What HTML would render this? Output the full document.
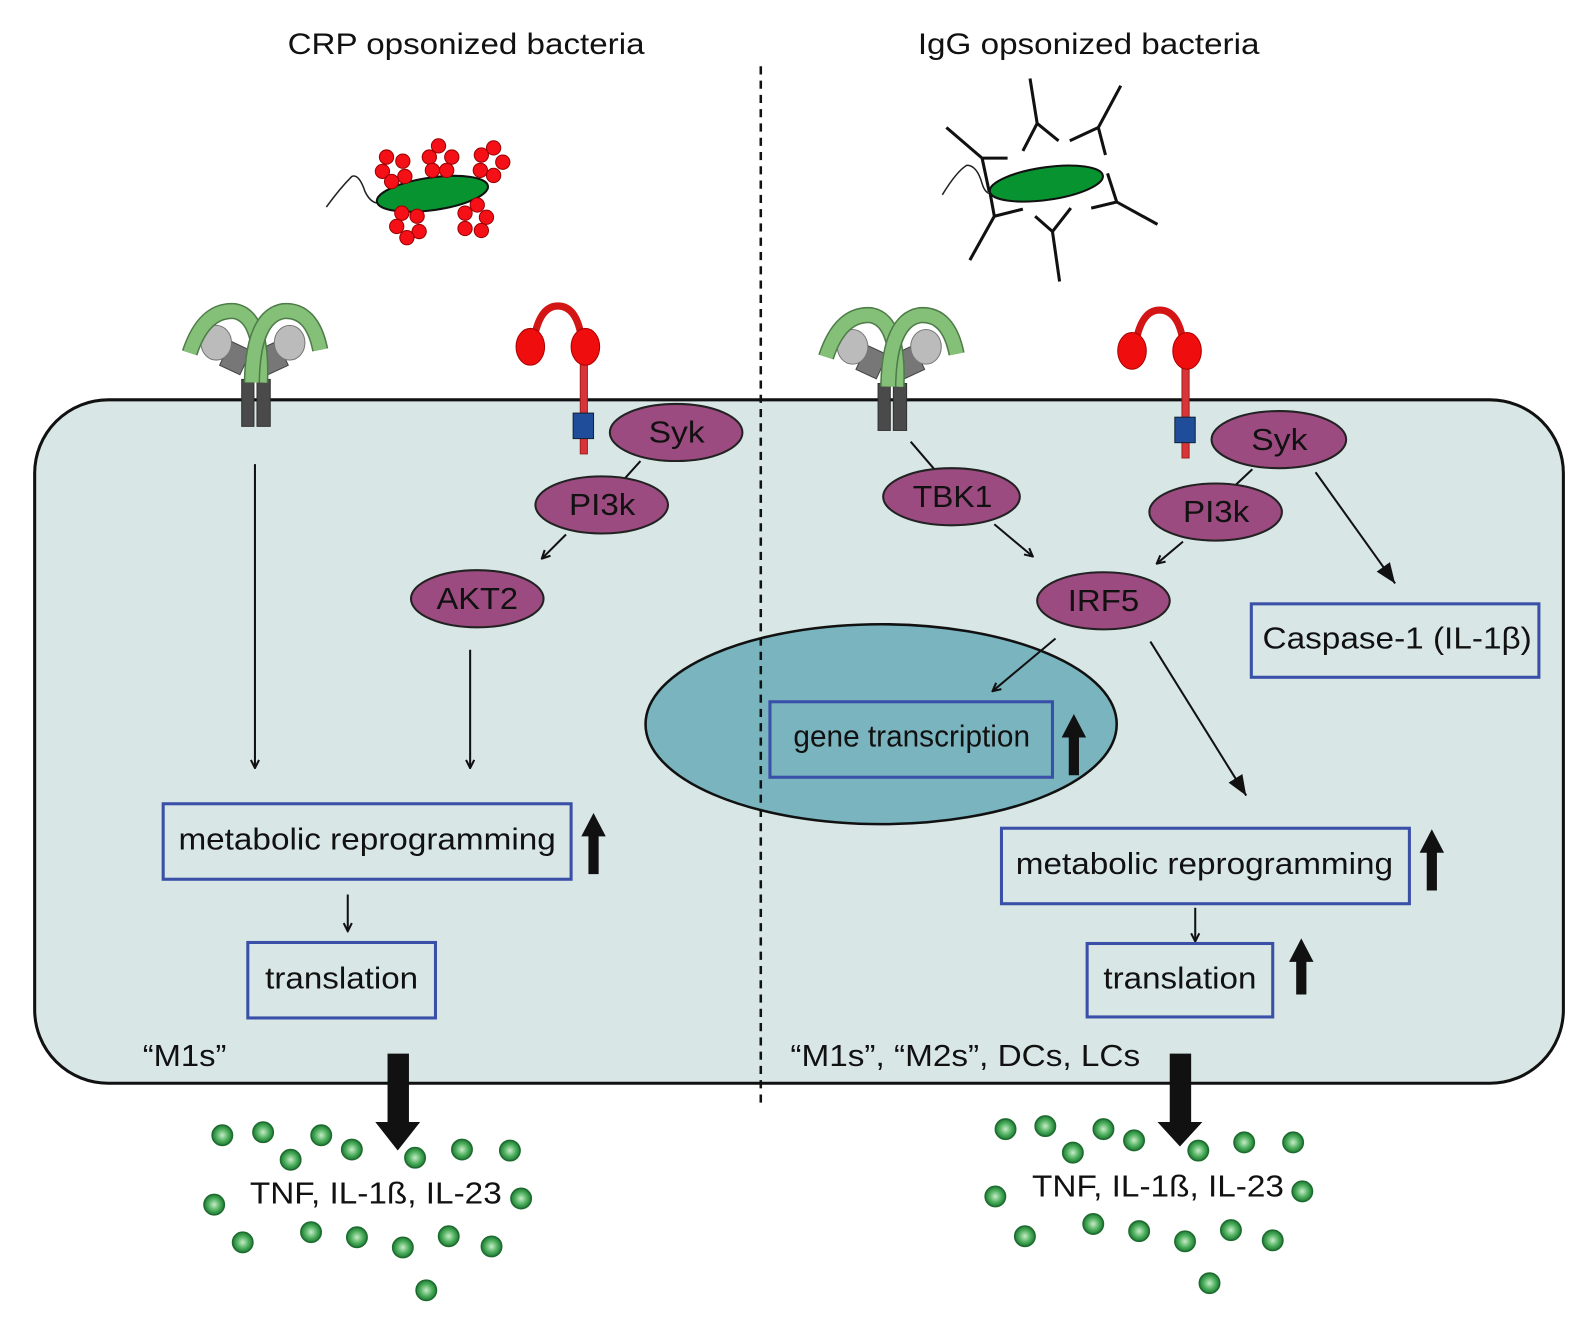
<!DOCTYPE html>
<html><head><meta charset="utf-8"><style>
html,body{margin:0;padding:0;background:#fff;}
svg{display:block;}
text{font-family:"Liberation Sans",Arial,sans-serif;fill:#111;}
</style></head><body>
<svg width="1595" height="1326" viewBox="0 0 1564 1300" preserveAspectRatio="none" xmlns="http://www.w3.org/2000/svg">
<defs>
<marker id="a" markerWidth="10" markerHeight="10" refX="8" refY="5" orient="auto" markerUnits="userSpaceOnUse"><path d="M1,1 L9,5 L1,9" fill="none" stroke="#111" stroke-width="2"/></marker>
<marker id="b" markerWidth="22" markerHeight="20" refX="20" refY="10" orient="auto" markerUnits="userSpaceOnUse"><path d="M0,2 L20,10 L0,18 Z" fill="#111"/></marker>
<radialGradient id="gd" cx="50%" cy="50%" r="50%"><stop offset="0" stop-color="#c8ecc8"/><stop offset="0.6" stop-color="#4cae5c"/><stop offset="1" stop-color="#1f7a35"/></radialGradient>
<g id="green">
  <rect x="237" y="372" width="12" height="46" fill="#4a4a4a" stroke="#333"/>
  <rect x="252" y="372" width="13" height="46" fill="#4a4a4a" stroke="#333"/>
  <g transform="rotate(25 230 355)"><rect x="218" y="338" width="22" height="26" fill="#777" stroke="#444"/></g>
  <g transform="rotate(-25 268 355)"><rect x="258" y="338" width="22" height="26" fill="#777" stroke="#444"/></g>
  <ellipse cx="212" cy="336" rx="15" ry="17" fill="#bbb" stroke="#777"/>
  <ellipse cx="284" cy="336" rx="15" ry="17" fill="#bbb" stroke="#777"/>
  <path d="M186,346 Q200,303 230,305 Q258,310 255,375" fill="none" stroke="#4e7c48" stroke-width="16"/>
  <path d="M186,346 Q200,303 230,305 Q258,310 255,375" fill="none" stroke="#85c078" stroke-width="13"/>
  <path d="M247,375 Q248,310 278,305 Q306,303 314,343" fill="none" stroke="#4e7c48" stroke-width="16"/>
  <path d="M247,375 Q248,310 278,305 Q306,303 314,343" fill="none" stroke="#85c078" stroke-width="13"/>
</g>
<g id="red">
  <path d="M524,330 Q530,300 547,300 Q565,300 570,330" fill="none" stroke="#d41515" stroke-width="7"/>
  <rect x="569" y="340" width="7" height="105" fill="#d8343a" stroke="#a02020"/>
  <ellipse cx="520" cy="340" rx="14" ry="18" fill="#f00d0d" stroke="#a00"/>
  <ellipse cx="574" cy="340" rx="14" ry="18" fill="#f00d0d" stroke="#a00"/>
  <rect x="562" y="405" width="20" height="25" fill="#1f4d99" stroke="#123"/>
</g>
</defs>

<g font-size="29" lengthAdjust="spacingAndGlyphs">
<text x="282" y="53" textLength="350" lengthAdjust="spacingAndGlyphs">CRP opsonized bacteria</text>
<text x="900" y="53" textLength="335" lengthAdjust="spacingAndGlyphs">IgG opsonized bacteria</text>
</g>

<!-- left bacterium -->
<path d="M320,203 Q333,185 345,173 Q352,170 358,188 Q364,200 372,199" fill="none" stroke="#222" stroke-width="1.5"/>
<ellipse cx="424" cy="190" rx="55" ry="16" transform="rotate(-8 424 190)" fill="#079430" stroke="#111" stroke-width="2"/>
<g fill="#f50f17" stroke="#900" stroke-width="1">
<circle cx="379" cy="154" r="7"/><circle cx="395" cy="158" r="7"/><circle cx="375" cy="168" r="7"/><circle cx="397" cy="173" r="7"/><circle cx="384" cy="178" r="7"/>
<circle cx="430" cy="143" r="7"/><circle cx="421" cy="154" r="7"/><circle cx="443" cy="154" r="7"/><circle cx="424" cy="167" r="7"/><circle cx="438" cy="167" r="7"/>
<circle cx="484" cy="145" r="7"/><circle cx="472" cy="152" r="7"/><circle cx="493" cy="159" r="7"/><circle cx="471" cy="167" r="7"/><circle cx="484" cy="172" r="7"/>
<circle cx="394" cy="209" r="7"/><circle cx="409" cy="212" r="7"/><circle cx="389" cy="222" r="7"/><circle cx="411" cy="227" r="7"/><circle cx="399" cy="233" r="7"/>
<circle cx="468" cy="201" r="7"/><circle cx="456" cy="209" r="7"/><circle cx="477" cy="213" r="7"/><circle cx="456" cy="224" r="7"/><circle cx="472" cy="226" r="7"/>
</g>

<!-- right bacterium -->
<path d="M924,191 Q938,168 948,162 Q958,162 963,180 Q966,190 972,190" fill="none" stroke="#222" stroke-width="1.5"/>
<ellipse cx="1026" cy="180" rx="56" ry="16" transform="rotate(-8 1026 180)" fill="#079430" stroke="#111" stroke-width="2"/>
<g stroke="#111" stroke-width="3" fill="none">
<path d="M1010,77 L1017,121 M1003,148 L1017,121 L1038,138"/>
<path d="M1099,84 L1077,125 M1049,138 L1077,125 L1084,152"/>
<path d="M928,125 L963,155 L988,155 M963,155 L970,188"/>
<path d="M951,255 L975,212 L1003,205 M975,212 L971,190"/>
<path d="M1039,276 L1032,227 L1015,212 M1032,227 L1050,204"/>
<path d="M1135,220 L1095,198 L1070,204 M1095,198 L1086,170"/>
</g>

<!-- cell -->
<rect x="34" y="392" width="1499" height="670" rx="72" ry="72" fill="#d8e7e6" stroke="#111" stroke-width="3"/>

<use href="#green"/>
<use href="#red"/>
<use href="#green" transform="translate(624,4)"/>
<use href="#red" transform="translate(590,4)"/>

<!-- nucleus -->
<ellipse cx="864" cy="710" rx="231" ry="98" fill="#7ab5bf" stroke="#111" stroke-width="2.5"/>

<!-- dashed divider -->
<line x1="746" y1="65" x2="746" y2="1086" stroke="#111" stroke-width="2.5" stroke-dasharray="8,6"/>

<!-- connectors -->
<g stroke="#111" stroke-width="2" fill="none">
<line x1="628" y1="452" x2="610" y2="472"/>
<line x1="555" y1="524" x2="532" y2="547" marker-end="url(#a)"/>
<line x1="250" y1="455" x2="250" y2="752" marker-end="url(#a)"/>
<line x1="461" y1="637" x2="461" y2="752" marker-end="url(#a)"/>
<line x1="341" y1="877" x2="341" y2="912" marker-end="url(#a)"/>
<line x1="893" y1="433" x2="917" y2="461"/>
<line x1="975" y1="514" x2="1012" y2="545" marker-end="url(#a)"/>
<line x1="1228" y1="460" x2="1210" y2="477"/>
<line x1="1160" y1="531" x2="1135" y2="552" marker-end="url(#a)"/>
<line x1="1290" y1="463" x2="1368" y2="572" marker-end="url(#b)"/>
<line x1="1035" y1="626" x2="974" y2="677" marker-end="url(#a)"/>
<line x1="1128" y1="629" x2="1222" y2="780" marker-end="url(#b)"/>
<line x1="1172" y1="890" x2="1172" y2="922" marker-end="url(#a)"/>
</g>

<!-- kinase ellipses -->
<g fill="#9b4b7f" stroke="#222" stroke-width="2">
<ellipse cx="663" cy="424" rx="65" ry="28"/>
<ellipse cx="590" cy="495" rx="65" ry="28"/>
<ellipse cx="468" cy="587" rx="65" ry="28"/>
<ellipse cx="933" cy="487" rx="67" ry="28"/>
<ellipse cx="1254" cy="431" rx="66" ry="28"/>
<ellipse cx="1192" cy="502" rx="65" ry="28"/>
<ellipse cx="1082" cy="589" rx="65" ry="28"/>
</g>
<g font-size="30">
<text x="636" y="434" textLength="55" lengthAdjust="spacingAndGlyphs">Syk</text>
<text x="558" y="505" textLength="65" lengthAdjust="spacingAndGlyphs">PI3k</text>
<text x="428" y="597" textLength="80" lengthAdjust="spacingAndGlyphs">AKT2</text>
<text x="895" y="497" textLength="78" lengthAdjust="spacingAndGlyphs">TBK1</text>
<text x="1227" y="441" textLength="55" lengthAdjust="spacingAndGlyphs">Syk</text>
<text x="1160" y="512" textLength="65" lengthAdjust="spacingAndGlyphs">PI3k</text>
<text x="1047" y="599" textLength="70" lengthAdjust="spacingAndGlyphs">IRF5</text>
</g>

<!-- boxes -->
<g fill="none" stroke="#3a4fa8" stroke-width="3">
<rect x="160" y="788" width="400" height="74"/>
<rect x="243" y="924" width="184" height="74"/>
<rect x="755" y="688" width="277" height="74"/>
<rect x="1227" y="592" width="282" height="72"/>
<rect x="982" y="812" width="400" height="74"/>
<rect x="1066" y="925" width="182" height="72"/>
</g>
<g font-size="30">
<text x="175" y="833" textLength="370" lengthAdjust="spacingAndGlyphs">metabolic reprogramming</text>
<text x="260" y="969" textLength="150" lengthAdjust="spacingAndGlyphs">translation</text>
<text x="778" y="732" textLength="232" lengthAdjust="spacingAndGlyphs">gene transcription</text>
<text x="1238" y="636" textLength="264" lengthAdjust="spacingAndGlyphs">Caspase-1 (IL-1β)</text>
<text x="996" y="857" textLength="370" lengthAdjust="spacingAndGlyphs">metabolic reprogramming</text>
<text x="1082" y="969" textLength="150" lengthAdjust="spacingAndGlyphs">translation</text>
</g>

<!-- thick up arrows -->
<g fill="#111">
<path d="M577,857 L577,820 L570,820 L582,797 L594,820 L587,820 L587,857 Z"/>
<path d="M1048,760 L1048,723 L1041,723 L1053,700 L1065,723 L1058,723 L1058,760 Z"/>
<path d="M1399,873 L1399,836 L1392,836 L1404,813 L1416,836 L1409,836 L1409,873 Z"/>
<path d="M1271,975 L1271,943 L1264,943 L1276,920 L1288,943 L1281,943 L1281,975 Z"/>
<path d="M380,1033 L401,1033 L401,1100 L412,1100 L390,1128 L368,1100 L380,1100 Z"/>
<path d="M1147,1033 L1168,1033 L1168,1100 L1179,1100 L1157,1124 L1135,1100 L1147,1100 Z"/>
</g>

<g font-size="30">
<text x="140" y="1045" textLength="82" lengthAdjust="spacingAndGlyphs">“M1s”</text>
<text x="775" y="1045" textLength="343" lengthAdjust="spacingAndGlyphs">“M1s”, “M2s”, DCs, LCs</text>
</g>

<!-- dots -->
<g fill="url(#gd)" stroke="#1d6b2e" stroke-width="1.5">
<circle cx="218" cy="1113" r="10"/><circle cx="258" cy="1110" r="10"/><circle cx="285" cy="1137" r="10"/><circle cx="315" cy="1113" r="10"/><circle cx="345" cy="1127" r="10"/><circle cx="407" cy="1135" r="10"/><circle cx="453" cy="1127" r="10"/><circle cx="500" cy="1128" r="10"/><circle cx="210" cy="1181" r="10"/><circle cx="511" cy="1175" r="10"/><circle cx="238" cy="1218" r="10"/><circle cx="305" cy="1208" r="10"/><circle cx="350" cy="1213" r="10"/><circle cx="395" cy="1223" r="10"/><circle cx="440" cy="1212" r="10"/><circle cx="482" cy="1222" r="10"/><circle cx="418" cy="1265" r="10"/>
<circle cx="986" cy="1107" r="10"/><circle cx="1025" cy="1104" r="10"/><circle cx="1052" cy="1130" r="10"/><circle cx="1082" cy="1107" r="10"/><circle cx="1112" cy="1118" r="10"/><circle cx="1175" cy="1128" r="10"/><circle cx="1220" cy="1120" r="10"/><circle cx="1268" cy="1120" r="10"/><circle cx="976" cy="1173" r="10"/><circle cx="1277" cy="1168" r="10"/><circle cx="1005" cy="1212" r="10"/><circle cx="1072" cy="1200" r="10"/><circle cx="1117" cy="1207" r="10"/><circle cx="1162" cy="1217" r="10"/><circle cx="1207" cy="1206" r="10"/><circle cx="1248" cy="1216" r="10"/><circle cx="1186" cy="1258" r="10"/>
</g>
<g font-size="30">
<text x="245" y="1180" textLength="247" lengthAdjust="spacingAndGlyphs">TNF, IL-1ß, IL-23</text>
<text x="1012" y="1173" textLength="247" lengthAdjust="spacingAndGlyphs">TNF, IL-1ß, IL-23</text>
</g>
</svg>
</body></html>
